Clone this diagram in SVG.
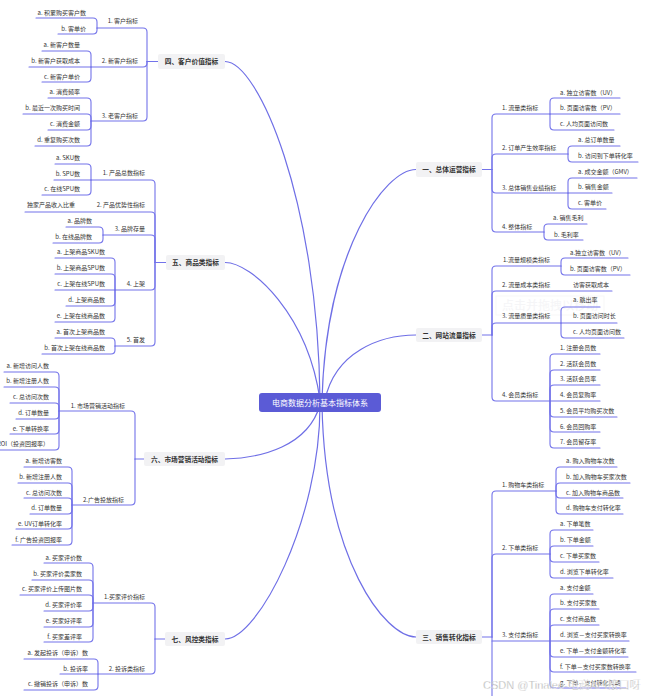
<svg xmlns="http://www.w3.org/2000/svg" width="646" height="696" viewBox="0 0 646 696">
<style>
.cn{fill:none;stroke:#7373ea;stroke-width:1.1;stroke-linecap:round}
.mc{fill:none;stroke:#6f6fe6;stroke-width:1.2}
.t{font-family:"Noto Sans CJK SC","Liberation Sans",sans-serif;font-size:6px;fill:#333}
.l{text-anchor:end}
.tp{font-family:"Noto Sans CJK SC","Liberation Sans",sans-serif;font-size:6.7px;font-weight:bold;fill:#333;text-anchor:middle}
.tb{fill:#f2f2f4}
.c{font-family:"Noto Sans CJK SC","Liberation Sans",sans-serif;font-size:8px;fill:#fff;text-anchor:middle}
</style>
<rect width="646" height="696" fill="#fff"/>
<g id="watermark-drag" opacity="0.5">
<rect x="496" y="296" width="108" height="19" fill="none" stroke="#eeeeee" stroke-width="0.8"/>
<text x="550" y="310" font-family="Noto Sans CJK SC,sans-serif" font-size="12" fill="#ececf0" text-anchor="middle">点击并拖拽以移动</text>
</g>
<g id="connectors">
<path class="mc" d="M225 61.5 C258 61.5 318 200 320 400"/>
<path class="mc" d="M225 262.5 C252 262.5 308 315 320 400"/>
<path class="mc" d="M225 459 C262 458 308 446 320 405"/>
<path class="mc" d="M225 639 C258 639 320 520 320 405"/>
<path class="mc" d="M416 169.5 C385 169.5 326 250 322 400"/>
<path class="mc" d="M416 335 C380 335 335 352 325 400"/>
<path class="mc" d="M416 637 C385 637 325 560 322 405"/>
<!-- 四 -->
<path class="cn" d="M158 61.5 H147"/>
<path class="cn" d="M147 61.5 V32 Q147 28 143 28 H97"/>
<path class="cn" d="M147 61.5 V63 Q147 67 143 67 H91"/>
<path class="cn" d="M147 61.5 V117 Q147 121 143 121 H91"/>
<path class="cn" d="M97 28 V22 Q97 18 93 18 H36"/>
<path class="cn" d="M97 28 V30 Q97 34 93 34 H58"/>
<path class="cn" d="M91 67 V55 Q91 51 87 51 H42"/>
<path class="cn" d="M91 67 H29"/>
<path class="cn" d="M91 67 V78 Q91 82 87 82 H42"/>
<path class="cn" d="M91 121 V102 Q91 98 87 98 H48"/>
<path class="cn" d="M91 121 V118 Q91 114 87 114 H23"/>
<path class="cn" d="M91 121 V126 Q91 130 87 130 H48"/>
<path class="cn" d="M91 121 V142 Q91 146 87 146 H35"/>
<!-- 五 -->
<path class="cn" d="M166 262.5 H155"/>
<path class="cn" d="M155 262.5 V184 Q155 180 151 180 H91"/>
<path class="cn" d="M155 262.5 V216 Q155 212 151 212 H25"/>
<path class="cn" d="M155 262.5 V239 Q155 235 151 235 H103"/>
<path class="cn" d="M155 262.5 V286 Q155 290 151 290 H115"/>
<path class="cn" d="M155 262.5 V342 Q155 346 151 346 H115"/>
<path class="cn" d="M91 180 V168 Q91 164 87 164 H55"/>
<path class="cn" d="M91 180 H54"/>
<path class="cn" d="M91 180 V191 Q91 195 87 195 H42"/>
<path class="cn" d="M103 235 V231 Q103 227 99 227 H66"/>
<path class="cn" d="M103 235 V239 Q103 243 99 243 H53"/>
<path class="cn" d="M115 290 V262 Q115 258 111 258 H55"/>
<path class="cn" d="M115 290 V278 Q115 274 111 274 H55"/>
<path class="cn" d="M115 290 H55"/>
<path class="cn" d="M115 290 V302 Q115 306 111 306 H66"/>
<path class="cn" d="M115 290 V318 Q115 322 111 322 H55"/>
<path class="cn" d="M115 346 V342 Q115 338 111 338 H55"/>
<path class="cn" d="M115 346 V350 Q115 354 111 354 H42"/>
<!-- 六 -->
<path class="cn" d="M144 459 H135"/>
<path class="cn" d="M135 459 V415 Q135 411 131 411 H59"/>
<path class="cn" d="M135 459 V501 Q135 505 131 505 H72"/>
<path class="cn" d="M59 411 V376 Q59 372 55 372 H4"/>
<path class="cn" d="M59 411 V391 Q59 387 55 387 H4"/>
<path class="cn" d="M59 411 V407 Q59 403 55 403 H10"/>
<path class="cn" d="M59 411 V415 Q59 419 55 419 H16"/>
<path class="cn" d="M59 411 V430 Q59 434 55 434 H10"/>
<path class="cn" d="M59 411 V446 Q59 450 55 450 H0"/>
<path class="cn" d="M72 505 V471 Q72 467 68 467 H24"/>
<path class="cn" d="M72 505 V487 Q72 483 68 483 H18"/>
<path class="cn" d="M72 505 V502 Q72 498 68 498 H24"/>
<path class="cn" d="M72 505 V510 Q72 514 68 514 H30"/>
<path class="cn" d="M72 505 V525 Q72 529 68 529 H16"/>
<path class="cn" d="M72 505 V541 Q72 545 68 545 H12"/>
<!-- 七 -->
<path class="cn" d="M165 639 H155"/>
<path class="cn" d="M155 639 V607 Q155 603 151 603 H93"/>
<path class="cn" d="M155 639 V670 Q155 674 151 674 H98"/>
<path class="cn" d="M93 603 V567 Q93 563 89 563 H44"/>
<path class="cn" d="M93 603 V584 Q93 580 89 580 H32"/>
<path class="cn" d="M93 603 V599 Q93 595 89 595 H20"/>
<path class="cn" d="M93 603 V607 Q93 611 89 611 H44"/>
<path class="cn" d="M93 603 V623 Q93 627 89 627 H44"/>
<path class="cn" d="M93 603 V638 Q93 642 89 642 H44"/>
<path class="cn" d="M98 674 V663 Q98 659 94 659 H24"/>
<path class="cn" d="M98 674 H60"/>
<path class="cn" d="M98 674 V686 Q98 690 94 690 H24"/>
<!-- 一 -->
<path class="cn" d="M482 169.5 H492"/>
<path class="cn" d="M492 169.5 V118 Q492 114 496 114 H550"/>
<path class="cn" d="M492 169.5 V158 Q492 154 496 154 H568"/>
<path class="cn" d="M492 169.5 V189 Q492 193 496 193 H568"/>
<path class="cn" d="M492 169.5 V228 Q492 232 496 232 H544"/>
<path class="cn" d="M550 114 V102 Q550 98 554 98 H620"/>
<path class="cn" d="M550 114 H620"/>
<path class="cn" d="M550 114 V126 Q550 130 554 130 H614"/>
<path class="cn" d="M568 154 V150 Q568 146 572 146 H620"/>
<path class="cn" d="M568 154 V158 Q568 162 572 162 H638"/>
<path class="cn" d="M568 193 V182 Q568 178 572 178 H637"/>
<path class="cn" d="M568 193 H612"/>
<path class="cn" d="M568 193 V205 Q568 209 572 209 H606"/>
<path class="cn" d="M544 232 V228 Q544 224 548 224 H587"/>
<path class="cn" d="M544 232 V236 Q544 240 548 240 H583"/>
<!-- 二 -->
<path class="cn" d="M482 335 H492"/>
<path class="cn" d="M492 335 V270 Q492 266 496 266 H561"/>
<path class="cn" d="M492 335 V295 Q492 291 496 291 H612"/>
<path class="cn" d="M492 335 V327 Q492 323 496 323 H561"/>
<path class="cn" d="M492 335 V397 Q492 401 496 401 H550"/>
<path class="cn" d="M561 266 V262 Q561 258 565 258 H628"/>
<path class="cn" d="M561 266 V271 Q561 275 565 275 H630"/>
<path class="cn" d="M561 323 V311 Q561 307 565 307 H600"/>
<path class="cn" d="M561 323 H617"/>
<path class="cn" d="M561 323 V334 Q561 338 565 338 H624"/>
<path class="cn" d="M550 401 V358 Q550 354 554 354 H600"/>
<path class="cn" d="M550 401 V374 Q550 370 554 370 H600"/>
<path class="cn" d="M550 401 V389 Q550 385 554 385 H600"/>
<path class="cn" d="M550 401 H600"/>
<path class="cn" d="M550 401 V413 Q550 417 554 417 H617"/>
<path class="cn" d="M550 401 V428 Q550 432 554 432 H600"/>
<path class="cn" d="M550 401 V444 Q550 448 554 448 H600"/>
<!-- 三 -->
<path class="cn" d="M482 637 H492"/>
<path class="cn" d="M492 637 V495 Q492 491 496 491 H556"/>
<path class="cn" d="M492 637 V558 Q492 554 496 554 H550"/>
<path class="cn" d="M492 641 H550"/>
<path class="cn" d="M492 637 V700"/>
<path class="cn" d="M556 491 V471 Q556 467 560 467 H617"/>
<path class="cn" d="M556 491 V487 Q556 483 560 483 H630"/>
<path class="cn" d="M556 491 V494 Q556 498 560 498 H623"/>
<path class="cn" d="M556 491 V510 Q556 514 560 514 H623"/>
<path class="cn" d="M550 554 V534 Q550 530 554 530 H593"/>
<path class="cn" d="M550 554 V550 Q550 546 554 546 H593"/>
<path class="cn" d="M550 554 V558 Q550 562 554 562 H599"/>
<path class="cn" d="M550 554 V574 Q550 578 554 578 H613"/>
<path class="cn" d="M550 641 V598 Q550 594 554 594 H593"/>
<path class="cn" d="M550 641 V613 Q550 609 554 609 H599"/>
<path class="cn" d="M550 641 V629 Q550 625 554 625 H599"/>
<path class="cn" d="M550 641 H629"/>
<path class="cn" d="M550 641 V653 Q550 657 554 657 H628"/>
<path class="cn" d="M550 641 V668 Q550 672 554 672 H636"/>
<path class="cn" d="M550 641 V684 Q550 688 554 688 H626"/>
</g>
<g id="center">
<rect x="259" y="393" width="122" height="19" rx="3" fill="#5b5bd6"/>
<text class="c" x="320" y="405.5">电商数据分析基本指标体系</text>
</g>
<g id="topic-4">
<rect class="tb" x="158" y="54" width="67" height="15" rx="2"/>
<text class="tp" x="191.5" y="64">四、客户价值指标</text>
</g>
<g id="n4-1"><text class="t l" x="138" y="23">1. 客户指标</text></g>
<g id="n4-1a"><text class="t l" x="86" y="15">a. 积累购买客户数</text></g>
<g id="n4-1b"><text class="t l" x="86" y="31">b. 客单价</text></g>
<g id="n4-2"><text class="t l" x="138" y="63">2. 新客户指标</text></g>
<g id="n4-2a"><text class="t l" x="80" y="47">a. 新客户数量</text></g>
<g id="n4-2b"><text class="t l" x="80" y="63">b. 新客户获取成本</text></g>
<g id="n4-2c"><text class="t l" x="80" y="79">c. 新客户单价</text></g>
<g id="n4-3"><text class="t l" x="138" y="118">3. 老客户指标</text></g>
<g id="n4-3a"><text class="t l" x="80" y="94">a. 消费频率</text></g>
<g id="n4-3b"><text class="t l" x="80" y="110">b. 最近一次购买时间</text></g>
<g id="n4-3c"><text class="t l" x="80" y="126">c. 消费金额</text></g>
<g id="n4-3d"><text class="t l" x="80" y="142">d. 重复购买次数</text></g>
<g id="topic-5">
<rect class="tb" x="166" y="255" width="59" height="15" rx="2"/>
<text class="tp" x="195.5" y="265">五、商品类指标</text>
</g>
<g id="n5-1"><text class="t l" x="145" y="175">1. 产品总数指标</text></g>
<g id="n5-1a"><text class="t l" x="80" y="160">a. SKU数</text></g>
<g id="n5-1b"><text class="t l" x="80" y="176">b. SPU数</text></g>
<g id="n5-1c"><text class="t l" x="80" y="191">c. 在线SPU数</text></g>
<g id="n5-2"><text class="t l" x="145" y="207">2. 产品优势性指标</text></g>
<g id="n5-2a"><text class="t l" x="75" y="207">独家产品收入比重</text></g>
<g id="n5-3"><text class="t l" x="145" y="231">3. 品牌存量</text></g>
<g id="n5-3a"><text class="t l" x="92" y="223">a. 品牌数</text></g>
<g id="n5-3b"><text class="t l" x="92" y="239">b. 在线品牌数</text></g>
<g id="n5-4"><text class="t l" x="145" y="286">4. 上架</text></g>
<g id="n5-4a"><text class="t l" x="105" y="254">a. 上架商品SKU数</text></g>
<g id="n5-4b"><text class="t l" x="105" y="270">b. 上架商品SPU数</text></g>
<g id="n5-4c"><text class="t l" x="105" y="286">c. 上架在线SPU数</text></g>
<g id="n5-4d"><text class="t l" x="105" y="302">d. 上架商品数</text></g>
<g id="n5-4e"><text class="t l" x="105" y="318">e. 上架在线商品数</text></g>
<g id="n5-5"><text class="t l" x="145" y="342">5. 首发</text></g>
<g id="n5-5a"><text class="t l" x="105" y="334">a. 首次上架商品数</text></g>
<g id="n5-5b"><text class="t l" x="105" y="350">b. 首次上架在线商品数</text></g>
<g id="topic-6">
<rect class="tb" x="144" y="452" width="81" height="14" rx="2"/>
<text class="tp" x="184.5" y="461.5">六、市场营销活动指标</text>
</g>
<g id="n6-1"><text class="t l" x="125" y="408">1. 市场营销活动指标</text></g>
<g id="n6-1a"><text class="t l" x="49" y="368">a. 新增访问人数</text></g>
<g id="n6-1b"><text class="t l" x="49" y="383">b. 新增注册人数</text></g>
<g id="n6-1c"><text class="t l" x="49" y="399">c. 总访问次数</text></g>
<g id="n6-1d"><text class="t l" x="49" y="415">d. 订单数量</text></g>
<g id="n6-1e"><text class="t l" x="49" y="431">e. 下单转换率</text></g>
<g id="n6-1f"><text class="t l" x="49" y="446">ROI（投资回报率）</text></g>
<g id="n6-2"><text class="t l" x="124" y="502">2.广告投放指标</text></g>
<g id="n6-2a"><text class="t l" x="62" y="463">a. 新增访客数</text></g>
<g id="n6-2b"><text class="t l" x="62" y="479">b. 新增注册人数</text></g>
<g id="n6-2c"><text class="t l" x="62" y="495">c. 总访问次数</text></g>
<g id="n6-2d"><text class="t l" x="62" y="510">d. 订单数量</text></g>
<g id="n6-2e"><text class="t l" x="62" y="526">e. UV订单转化率</text></g>
<g id="n6-2f"><text class="t l" x="62" y="542">f.  广告投资回报率</text></g>
<g id="topic-7">
<rect class="tb" x="165" y="632" width="60" height="14" rx="2"/>
<text class="tp" x="195" y="641.5">七、风控类指标</text>
</g>
<g id="n7-1"><text class="t l" x="145" y="599">1.买家评价指标</text></g>
<g id="n7-1a"><text class="t l" x="82" y="560">a. 买家评价数</text></g>
<g id="n7-1b"><text class="t l" x="82" y="576">b. 买家评价卖家数</text></g>
<g id="n7-1c"><text class="t l" x="82" y="591">c. 买家评价上传图片数</text></g>
<g id="n7-1d"><text class="t l" x="82" y="607">d. 买家评价率</text></g>
<g id="n7-1e"><text class="t l" x="82" y="623">e. 买家好评率</text></g>
<g id="n7-1f"><text class="t l" x="82" y="639">f.  买家差评率</text></g>
<g id="n7-2"><text class="t l" x="145" y="671">2. 投诉类指标</text></g>
<g id="n7-2a"><text class="t l" x="88" y="655">a. 发起投诉（申诉）数</text></g>
<g id="n7-2b"><text class="t l" x="88" y="671">b. 投诉率</text></g>
<g id="n7-2c"><text class="t l" x="88" y="686">c. 撤销投诉（申诉）数</text></g>
<g id="topic-1">
<rect class="tb" x="416" y="162" width="66" height="15" rx="2"/>
<text class="tp" x="449" y="172">一、总体运营指标</text>
</g>
<g id="n1-1"><text class="t" x="502" y="110">1. 流量类指标</text></g>
<g id="n1-1a"><text class="t" x="560" y="95">a. 独立访客数（UV）</text></g>
<g id="n1-1b"><text class="t" x="560" y="110">b. 页面访客数（PV）</text></g>
<g id="n1-1c"><text class="t" x="560" y="126">c. 人均页面访问数</text></g>
<g id="n1-2"><text class="t" x="502" y="150">2. 订单产生效率指标</text></g>
<g id="n1-2a"><text class="t" x="578" y="142">a. 总订单数量</text></g>
<g id="n1-2b"><text class="t" x="578" y="158">b. 访问到下单转化率</text></g>
<g id="n1-3"><text class="t" x="502" y="190">3. 总体销售业绩指标</text></g>
<g id="n1-3a"><text class="t" x="578" y="174">a. 成交金额（GMV）</text></g>
<g id="n1-3b"><text class="t" x="578" y="189">b. 销售金额</text></g>
<g id="n1-3c"><text class="t" x="578" y="205">c. 客单价</text></g>
<g id="n1-4"><text class="t" x="502" y="229">4. 整体指标</text></g>
<g id="n1-4a"><text class="t" x="553" y="220">a. 销售毛利</text></g>
<g id="n1-4b"><text class="t" x="554" y="237">b. 毛利率</text></g>
<g id="topic-2">
<rect class="tb" x="416" y="328" width="66" height="14" rx="2"/>
<text class="tp" x="449" y="337.5">二、网站流量指标</text>
</g>
<g id="n2-1"><text class="t" x="503" y="262">1.流量规模类指标</text></g>
<g id="n2-1a"><text class="t" x="570" y="255">a.独立访客数（UV）</text></g>
<g id="n2-1b"><text class="t" x="570" y="271">b.  页面访客数（PV）</text></g>
<g id="n2-2"><text class="t" x="502" y="287">2. 流量成本类指标</text></g>
<g id="n2-2a"><text class="t" x="573" y="287">访客获取成本</text></g>
<g id="n2-3"><text class="t" x="502" y="318">3. 流量质量类指标</text></g>
<g id="n2-3a"><text class="t" x="573" y="302">a. 跳出率</text></g>
<g id="n2-3b"><text class="t" x="573" y="318">b. 页面访问时长</text></g>
<g id="n2-3c"><text class="t" x="573" y="334">c. 人均页面访问数</text></g>
<g id="n2-4"><text class="t" x="502" y="397">4. 会员类指标</text></g>
<g id="n2-4a"><text class="t" x="560" y="350">1. 注册会员数</text></g>
<g id="n2-4b"><text class="t" x="560" y="366">2. 活跃会员数</text></g>
<g id="n2-4c"><text class="t" x="560" y="381">3. 活跃会员率</text></g>
<g id="n2-4d"><text class="t" x="560" y="397">4. 会员复购率</text></g>
<g id="n2-4e"><text class="t" x="560" y="413">5. 会员平均购买次数</text></g>
<g id="n2-4f"><text class="t" x="560" y="429">6. 会员回购率</text></g>
<g id="n2-4g"><text class="t" x="560" y="444">7. 会员留存率</text></g>
<g id="topic-3">
<rect class="tb" x="416" y="630" width="66" height="14" rx="2"/>
<text class="tp" x="449" y="639.5">三、销售转化指标</text>
</g>
<g id="n3-1"><text class="t" x="502" y="487">1. 购物车类指标</text></g>
<g id="n3-1a"><text class="t" x="566" y="463">a. 购入购物车次数</text></g>
<g id="n3-1b"><text class="t" x="566" y="479">b. 加入购物车买家次数</text></g>
<g id="n3-1c"><text class="t" x="566" y="495">c. 加入购物车商品数</text></g>
<g id="n3-1d"><text class="t" x="566" y="510">d. 购物车支付转化率</text></g>
<g id="n3-2"><text class="t" x="502" y="550">2. 下单类指标</text></g>
<g id="n3-2a"><text class="t" x="560" y="526">a. 下单笔数</text></g>
<g id="n3-2b"><text class="t" x="560" y="542">b. 下单金额</text></g>
<g id="n3-2c"><text class="t" x="560" y="558">c. 下单买家数</text></g>
<g id="n3-2d"><text class="t" x="560" y="574">d. 浏览下单转化率</text></g>
<g id="n3-3"><text class="t" x="502" y="637">3. 支付类指标</text></g>
<g id="n3-3a"><text class="t" x="560" y="590">a. 支付金额</text></g>
<g id="n3-3b"><text class="t" x="560" y="605">b. 支付买家数</text></g>
<g id="n3-3c"><text class="t" x="560" y="621">c. 支付商品数</text></g>
<g id="n3-3d"><text class="t" x="560" y="637">d. 浏览－支付买家转换率</text></g>
<g id="n3-3e"><text class="t" x="560" y="653">e. 下单－支付金额转化率</text></g>
<g id="n3-3f"><text class="t" x="560" y="669">f.  下单－支付买家数转换率</text></g>
<g id="n3-3g"><text class="t" x="560" y="685">g. 下单－支付转化周期</text></g>
<g id="watermark-csdn">
<text x="483" y="689" font-family="Liberation Sans,Noto Sans CJK SC,sans-serif" font-size="11" fill="#8a8a8a" stroke="#ffffff" stroke-width="0.4" opacity="0.85">CSDN @Tinalee-电商API接口呀</text>
</g>
</svg>
